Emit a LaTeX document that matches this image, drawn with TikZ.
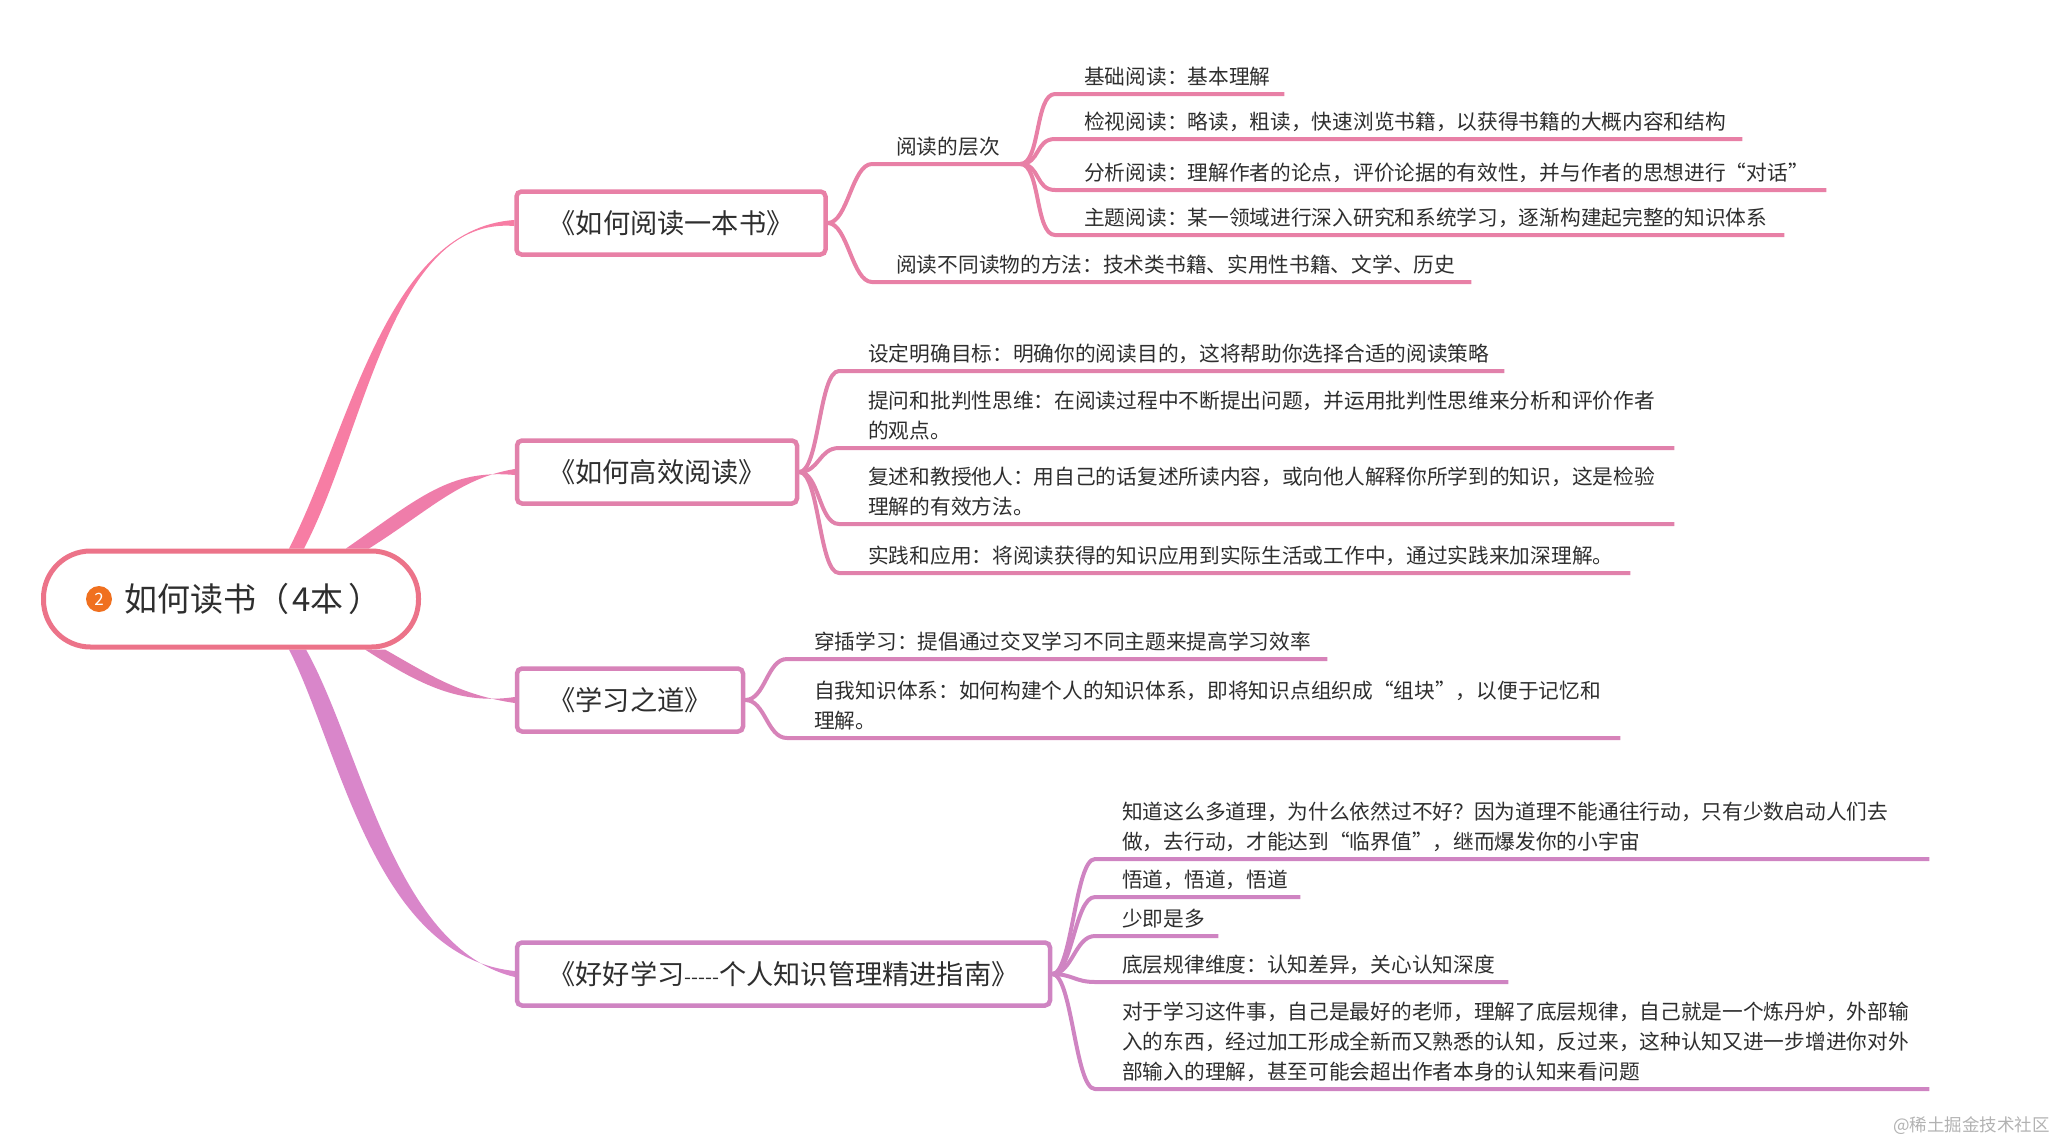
\documentclass[tikz,border=0pt]{standalone}
\usepackage{fontspec}
\setmainfont{Noto Sans CJK SC}
\usetikzlibrary{backgrounds}

\definecolor{rootcol}{HTML}{EC7389}
\definecolor{orangecol}{HTML}{F0701F}
\definecolor{onecol}{HTML}{E880A6}
\definecolor{twocol}{HTML}{E181AB}
\definecolor{threecol}{HTML}{D783B9}
\definecolor{fourcol}{HTML}{CF84C2}
\definecolor{limbone}{HTML}{F77DA4}
\definecolor{limbtwo}{HTML}{EF7DAA}
\definecolor{limbthree}{HTML}{DF80B8}
\definecolor{limbfour}{HTML}{D986CA}
\definecolor{inkcol}{HTML}{2E2E2E}

\newcommand{\gap}[1][29pt]{\hspace*{#1}\rule[-5pt]{0pt}{5pt}}

\tikzset{
  rootbox/.style={draw=rootcol, line width=5pt, fill=white, rounded corners=47pt, minimum width=375pt, minimum height=96pt},
  bookbox/.style={draw=#1, line width=4.5pt, fill=white, rounded corners=5pt, minimum height=63pt, text=inkcol, font=\fontsize{27.2}{32}\selectfont, inner sep=0pt},
  leaf/.style={anchor=south west, text width=#1, inner xsep=0pt, inner ysep=4.5pt, align=left, text=inkcol, font=\fontsize{20.7}{30}\selectfont},
  stem/.style={draw=#1, line width=4pt, line join=round},
  fan/.style={out=0, in=180, distance=20pt},
}

\begin{document}
\begin{tikzpicture}[x=1pt, y=-1pt]
    \useasboundingbox (0,0) rectangle (2056,1144);

    % centre
    \node[rootbox] (root) at (231,599) {};
    \node[circle, fill=orangecol, text=white, inner sep=0pt, minimum size=26pt, font=\fontsize{17}{17}\selectfont] (badge) at (99,599) {2};
    \node[anchor=west, inner sep=0pt, text=inkcol, font=\fontsize{33}{36}\selectfont] (title) at (124,599) {如何读书（\hspace{3pt}4本\hspace{5pt}）};

    % books
    \node[bookbox=onecol, minimum width=309pt] (one) at (671,223) {《如何阅读一本书》};
    \node[bookbox=twocol, minimum width=280pt] (two) at (657,472) {《如何高效阅读》};
    \node[bookbox=threecol, minimum width=226pt] (three) at (630,700) {《学习之道》};
    \node[bookbox=fourcol, minimum width=533pt] (four) at (783.5,974) {《好好学习{\fontsize{20}{20}\selectfont -{}-{}-{}-{}-}个人知识管理精进指南》};

    % first book
    \node[leaf=148pt] (levels) at (872,164) {\gap[24pt]阅读的层次};
    \node[leaf=599pt] (methods) at (872,282) {\gap[24pt]阅读不同读物的方法：技术类书籍、实用性书籍、文学、历史};
    \node[leaf=229pt] (basic) at (1055,94) {\gap 基础阅读：基本理解};
    \node[leaf=687pt] (inspect) at (1055,139) {\gap 检视阅读：略读，粗读，快速浏览书籍，以获得书籍的大概内容和结构};
    \node[leaf=771pt] (analyse) at (1055,190) {\gap 分析阅读：理解作者的论点，评价论据的有效性，并与作者的思想进行“对话”};
    \node[leaf=729pt] (topic) at (1055,235) {\gap 主题阅读：某一领域进行深入研究和系统学习，逐渐构建起完整的知识体系};
    \draw[stem=onecol] (one.east) to[fan] (levels.south west) -- (levels.south east);
    \draw[stem=onecol] (one.east) to[fan] (methods.south west) -- (methods.south east);
    \draw[stem=onecol] (levels.south east) to[fan] (basic.south west) -- (basic.south east);
    \draw[stem=onecol] (levels.south east) to[fan] (inspect.south west) -- (inspect.south east);
    \draw[stem=onecol] (levels.south east) to[fan] (analyse.south west) -- (analyse.south east);
    \draw[stem=onecol] (levels.south east) to[fan] (topic.south west) -- (topic.south east);

    % second book
    \node[leaf=665pt] (goal) at (839,371) {\gap 设定明确目标：明确你的阅读目的，这将帮助你选择合适的阅读策略};
    \node[leaf=835pt] (question) at (839,448) {\gap 提问和批判性思维：在阅读过程中不断提出问题，并运用批判性思维来分析和评价作者\\\gap 的观点。};
    \node[leaf=835pt] (retell) at (839,524) {\gap 复述和教授他人：用自己的话复述所读内容，或向他人解释你所学到的知识，这是检验\\\gap 理解的有效方法。};
    \node[leaf=791pt] (practice) at (839,573) {\gap 实践和应用：将阅读获得的知识应用到实际生活或工作中，通过实践来加深理解。};
    \draw[stem=twocol] (two.east) to[fan] (goal.south west) -- (goal.south east);
    \draw[stem=twocol] (two.east) to[fan] (question.south west) -- (question.south east);
    \draw[stem=twocol] (two.east) to[fan] (retell.south west) -- (retell.south east);
    \draw[stem=twocol] (two.east) to[fan] (practice.south west) -- (practice.south east);

    % third book
    \node[leaf=540pt] (mixed) at (787,659) {\gap[27pt]穿插学习：提倡通过交叉学习不同主题来提高学习效率};
    \node[leaf=833pt] (system) at (787,738) {\gap[27pt]自我知识体系：如何构建个人的知识体系，即将知识点组织成“组块”，以便于记忆和\\\gap[27pt]理解。};
    \draw[stem=threecol] (three.east) to[fan] (mixed.south west) -- (mixed.south east);
    \draw[stem=threecol] (three.east) to[fan] (system.south west) -- (system.south east);

    % fourth book
    \node[leaf=834pt] (why) at (1095,859) {\gap[27pt]知道这么多道理，为什么依然过不好？因为道理不能通往行动，只有少数启动人们去\\\gap[27pt]做，去行动，才能达到“临界值”，继而爆发你的小宇宙};
    \node[leaf=205pt] (wudao) at (1095,897) {\gap[27pt]悟道，悟道，悟道};
    \node[leaf=123pt] (less) at (1095,936) {\gap[27pt]少即是多};
    \node[leaf=413pt] (rule) at (1095,982) {\gap[27pt]底层规律维度：认知差异，关心认知深度};
    \node[leaf=834pt] (teacher) at (1095,1089) {\gap[27pt]对于学习这件事，自己是最好的老师，理解了底层规律，自己就是一个炼丹炉，外部输\\\gap[27pt]入的东西，经过加工形成全新而又熟悉的认知，反过来，这种认知又进一步增进你对外\\\gap[27pt]部输入的理解，甚至可能会超出作者本身的认知来看问题};
    \draw[stem=fourcol] (four.east) to[fan] (why.south west) -- (why.south east);
    \draw[stem=fourcol] (four.east) to[fan] (wudao.south west) -- (wudao.south east);
    \draw[stem=fourcol] (four.east) to[fan] (less.south west) -- (less.south east);
    \draw[stem=fourcol] (four.east) to[fan] (rule.south west) -- (rule.south east);
    \draw[stem=fourcol] (four.east) to[fan] (teacher.south west) -- (teacher.south east);

    % mark
    \node[anchor=east, inner sep=0pt, text=black!30, font=\fontsize{17.5}{20}\selectfont] (mark) at (2050,1126) {@稀土掘金技术社区};

    % thick limbs
    \begin{scope}[on background layer]
      \fill[color=limbone] ([xshift=58pt]root.north) .. controls (350,430) and (385,229) .. ([yshift=3pt]one.west) -- ([yshift=-3pt]one.west) .. controls (392,216) and (366,430) .. ([xshift=73pt]root.north) -- cycle;
      \fill[color=limbtwo] ([xshift=115pt]root.north) .. controls (420,497) and (450,469) .. ([yshift=-3pt]two.west) -- ([yshift=3pt]two.west) .. controls (460,478) and (430,510) .. ([xshift=138pt]root.north) -- cycle;
      \fill[color=limbthree] ([xshift=134pt]root.south) .. controls (420,685) and (460,705) .. ([yshift=3pt]three.west) -- ([yshift=-3pt]three.west) .. controls (460,695) and (430,675) .. ([xshift=154pt]root.south) -- cycle;
      \fill[color=limbfour] ([xshift=58pt]root.south) .. controls (340,750) and (375,957) .. ([yshift=3pt]four.west) -- ([yshift=-3pt]four.west) .. controls (394,948) and (362,750) .. ([xshift=75pt]root.south) -- cycle;
    \end{scope}
\end{tikzpicture}
\end{document}
